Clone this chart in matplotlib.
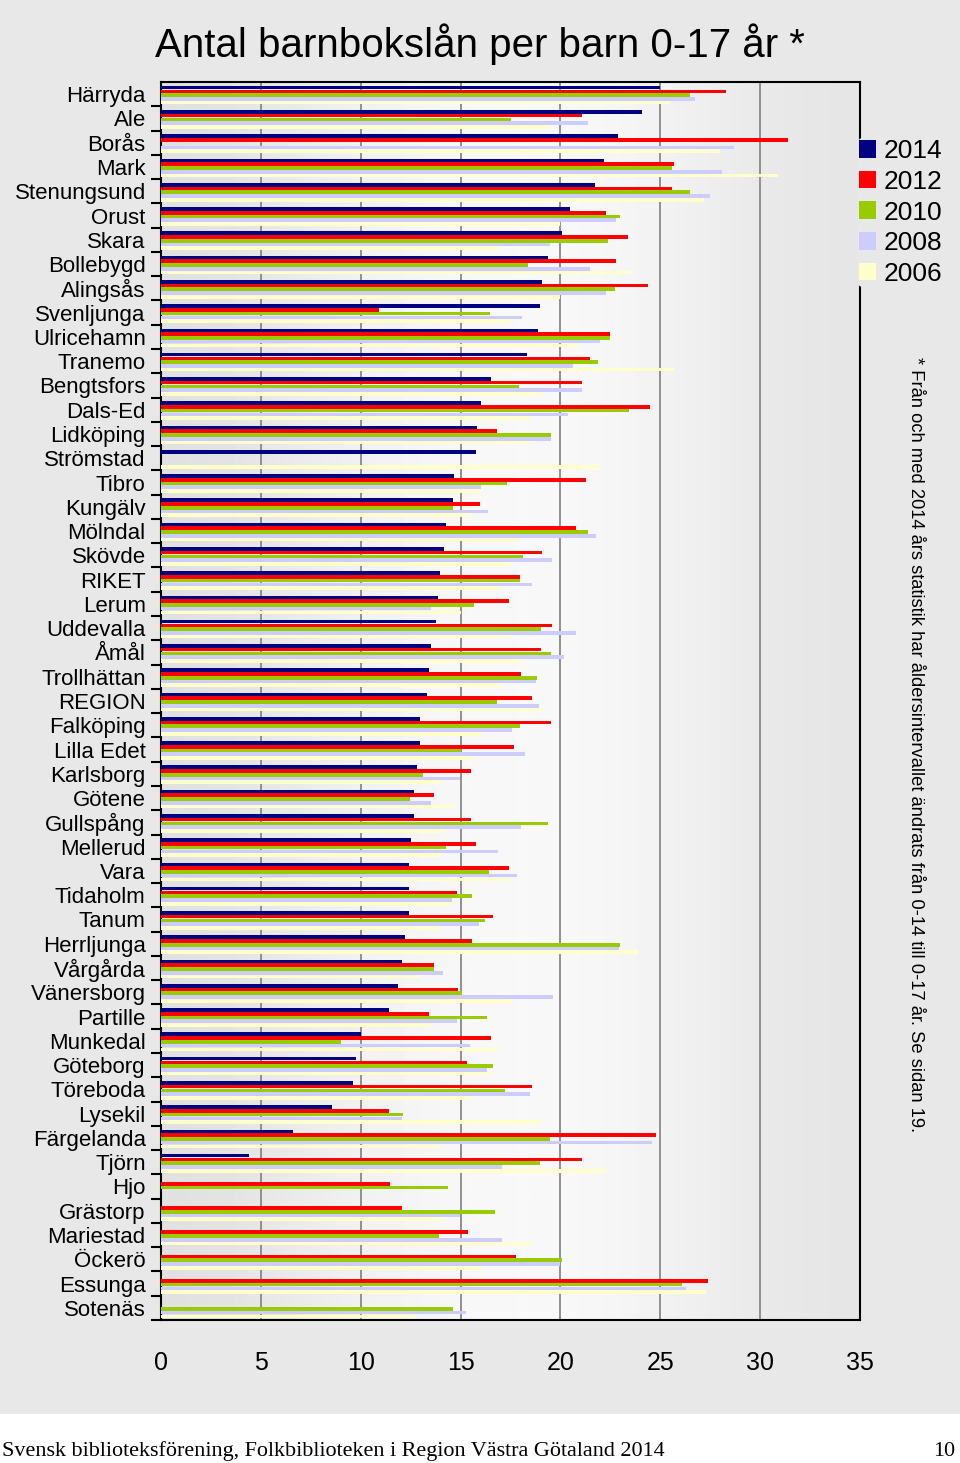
import numpy as np
import matplotlib.pyplot as plt
from matplotlib.patches import Rectangle

# --- Data ---
kommuner = ["Härryda", "Ale", "Borås", "Mark", "Stenungsund", "Orust", "Skara",
            "Bollebygd", "Alingsås", "Svenljunga", "Ulricehamn", "Tranemo",
            "Bengtsfors", "Dals-Ed", "Lidköping", "Strömstad", "Tibro", "Kungälv",
            "Mölndal", "Skövde", "RIKET", "Lerum", "Uddevalla", "Åmål",
            "Trollhättan", "REGION", "Falköping", "Lilla Edet", "Karlsborg",
            "Götene", "Gullspång", "Mellerud", "Vara", "Tidaholm", "Tanum",
            "Herrljunga", "Vårgårda", "Vänersborg", "Partille", "Munkedal",
            "Göteborg", "Töreboda", "Lysekil", "Färgelanda", "Tjörn", "Hjo",
            "Grästorp", "Mariestad", "Öckerö", "Essunga", "Sotenäs"]

v2014 = [25.0, 24.1, 22.9, 22.2, 21.75, 20.5, 20.1, 19.4, 19.1, 19.0, 18.9, 18.35,
         16.5, 16.0, 15.8, 15.75, 14.65, 14.6, 14.25, 14.15, 13.95, 13.85, 13.75, 13.5,
         13.4, 13.3, 12.95, 12.95, 12.8, 12.65, 12.65, 12.5, 12.4, 12.4, 12.4,
         12.2, 12.05, 11.85, 11.4, 10.0, 9.75, 9.6, 8.55, 6.6, 4.4, 0,
         0, 0, 0, 0, 0]
v2012 = [28.3, 21.1, 31.4, 25.7, 25.6, 22.3, 23.4, 22.8, 24.4, 10.9, 22.5, 21.5,
         21.1, 24.5, 16.8, 0, 21.3, 15.95, 20.8, 19.1, 18.0, 17.4, 19.6, 19.05,
         18.05, 18.6, 19.55, 17.7, 15.5, 13.65, 15.5, 15.75, 17.4, 14.8, 16.6,
         15.55, 13.65, 14.85, 13.4, 16.5, 15.3, 18.6, 11.4, 24.8, 21.1, 11.45,
         12.05, 15.35, 17.8, 27.4, 0]
v2010 = [26.5, 17.5, 0, 25.6, 26.5, 23.0, 22.4, 18.4, 22.75, 16.45, 22.5, 21.9,
         17.95, 23.45, 19.55, 0, 17.3, 14.6, 21.4, 18.15, 18.0, 15.65, 19.05, 19.55,
         18.85, 16.8, 18.0, 15.0, 13.1, 12.45, 19.4, 14.25, 16.4, 15.55, 16.2,
         23.0, 13.65, 15.05, 16.3, 9.0, 16.6, 17.2, 12.1, 19.5, 19.0, 14.35,
         16.7, 13.9, 20.1, 26.1, 14.6]
v2008 = [26.75, 21.4, 28.7, 28.1, 27.5, 22.8, 19.5, 21.5, 22.3, 18.1, 22.0, 20.65,
         21.1, 20.4, 19.55, 0, 16.0, 16.35, 21.8, 19.6, 18.6, 13.5, 20.8, 20.2,
         18.8, 18.95, 17.6, 18.25, 14.95, 13.5, 18.05, 16.85, 17.85, 14.55, 15.9,
         22.95, 14.1, 19.65, 14.8, 15.45, 16.3, 18.5, 12.05, 24.6, 17.05, 0,
         14.95, 17.05, 20.0, 26.3, 15.25]
v2006 = [25.5, 19.5, 28.0, 30.9, 27.2, 20.0, 16.9, 23.6, 20.0, 17.5, 21.0, 25.7,
         19.1, 18.5, 18.5, 22.0, 16.0, 15.5, 18.0, 17.5, 17.0, 15.0, 17.5, 18.0,
         17.0, 19.1, 16.0, 15.5, 14.0, 14.7, 14.2, 14.0, 17.5, 14.5, 14.0,
         23.9, 13.0, 17.6, 13.5, 16.9, 16.5, 15.5, 19.0, 14.05, 22.3, 0,
         14.05, 18.65, 16.0, 27.3, 12.7]

years = ["2014", "2012", "2010", "2008", "2006"]
series = [v2014, v2012, v2010, v2008, v2006]
colors = ["#000080", "#ff0000", "#99cc00", "#ccccff", "#ffffcc"]

plt.rcParams['font.family'] = ['Liberation Sans', 'DejaVu Sans']

W, H = 960, 1463
fig = plt.figure(figsize=(W / 100, H / 100), dpi=100)
fig.patch.set_facecolor("white")
fig.patches.append(Rectangle((0, (H - 1414) / H), 1, 1414 / H, transform=fig.transFigure,
                             facecolor="#e8e8e8", edgecolor="none", zorder=0))

ax = fig.add_axes([161 / W, (H - 1320) / H, (860 - 161) / W, (1320 - 82) / H])
ax.set_zorder(2)

n = len(kommuner)
y = np.arange(n)

# background gradient of the plot area
grad = np.array([0.88, 0.91, 0.945, 0.965, 0.975, 0.97, 0.95, 0.92, 0.90])
ax.imshow(np.tile(grad, (2, 1)), cmap="gray", vmin=0, vmax=1, aspect="auto",
          extent=(0, 35, n - 0.5, -0.5), interpolation="bicubic", zorder=0)

offsets = [-0.27, -0.115, 0.04, 0.195, 0.35]
for vals, off, col, yr in zip(series, offsets, colors, years):
    ax.barh(y + off, vals, height=0.15, color=col, label=yr, zorder=3)

ax.set_xlim(0, 35)
ax.set_ylim(n - 0.5, -0.5)
ax.set_xticks(np.arange(0, 36, 5))
ax.tick_params(axis='x', length=0, pad=22, labelsize=18)
ax.set_yticks(y)
ax.set_yticklabels(kommuner)
ax.tick_params(axis='y', which='major', length=0, pad=11, labelsize=16)
ax.set_yticks(np.arange(-0.5, n, 1)[1:], minor=True)
ax.tick_params(axis='y', which='minor', length=7, width=1.5, direction='out')
ax.grid(axis='x', color='#888888', linewidth=1.3, zorder=1)
ax.set_axisbelow(True)
for s in ax.spines.values():
    s.set_linewidth(1.5)
    s.set_color("black")

fig.text(0.5, (H - 57) / H, "Antal barnbokslån per barn 0-17 år *", ha="center",
         va="baseline", fontsize=29)

leg = fig.legend(loc="upper left", bbox_to_anchor=(858 / W, 1 - 138 / H),
                 fontsize=19, frameon=True, handlelength=0.65, handleheight=0.65,
                 handletextpad=0.27, labelspacing=0.25, borderpad=0.05,
                 borderaxespad=0)
leg.get_frame().set_facecolor("#e8e8e8")
leg.get_frame().set_edgecolor("none")
leg.get_frame().set_alpha(1)
leg.set_zorder(5)

fig.text(915 / W, 1 - 745 / H,
         "* Från och med 2014 års statistik har åldersintervallet ändrats från 0-14 till 0-17 år. Se sidan 19.",
         rotation=-90, ha="center", va="center", fontsize=13.2)

fig.text(2 / W, 1 - 1451 / H,
         "Svensk biblioteksförening, Folkbiblioteken i Region Västra Götaland 2014",
         ha="left", va="center", fontsize=15.9, family="Liberation Serif")
fig.text(955 / W, 1 - 1451 / H, "10", ha="right", va="center", fontsize=15.9,
         family="Liberation Serif")

fig.savefig("out.png", dpi=100, facecolor=fig.get_facecolor())
